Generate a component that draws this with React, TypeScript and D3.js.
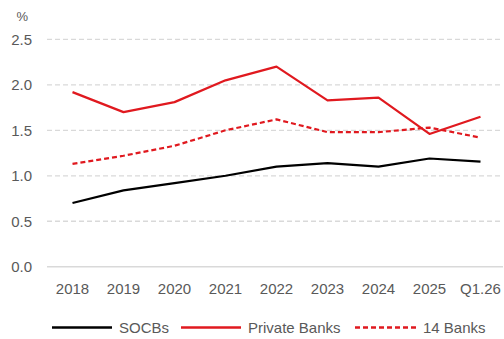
import React from "react";
import * as d3 from "d3";

const categories = ["2018", "2019", "2020", "2021", "2022", "2023", "2024", "2025", "Q1.26"];
const socbs = [0.7, 0.84, 0.92, 1.0, 1.1, 1.14, 1.1, 1.19, 1.155];
const privateBanks = [1.92, 1.7, 1.81, 2.05, 2.2, 1.83, 1.86, 1.46, 1.65];
const banks14 = [1.13, 1.22, 1.33, 1.5, 1.62, 1.48, 1.48, 1.53, 1.42];
const yTicks = [0, 0.5, 1.0, 1.5, 2.0, 2.5];

const seriesList = [
  { name: "SOCBs", values: socbs, color: "#000000", dash: "" },
  { name: "Private Banks", values: privateBanks, color: "#e0191f", dash: "" },
  { name: "14 Banks", values: banks14, color: "#e0191f", dash: "5,3" },
];

export default function App() {
  const W = 504, H = 339;
  const x = d3.scalePoint<string>().domain(categories).range([47, 506]).padding(0.5);
  const y = d3.scaleLinear().domain([0, 2.5]).range([266.7, 39.4]);
  const line = d3
    .line<number>()
    .x((_, i) => x(categories[i]) as number)
    .y((d) => y(d));
  const font = "'Liberation Sans', Arial, sans-serif";
  const legendItems = [
    { x1: 52, x2: 112, tx: 119 },
    { x1: 181, x2: 241, tx: 248 },
    { x1: 355, x2: 416, tx: 423 },
  ];
  return (
    <svg
      width={W}
      height={H}
      style={{ position: "absolute", left: 0, top: 0, background: "#fff" }}
      fontFamily={font}
    >
      <text x={28} y={21} fontSize={13} fill="#595959" textAnchor="end">%</text>
      {yTicks.map((t) => (
        <g key={t}>
          {t !== 0 && (
            <line x1={47} x2={503} y1={y(t)} y2={y(t)} stroke="#d9d9d9" strokeWidth={1.3} strokeDasharray="5,3" />
          )}
          <text x={32} y={y(t) + 5.3} fontSize={15} fill="#595959" textAnchor="end">
            {t.toFixed(1)}
          </text>
        </g>
      ))}
      <line x1={47} x2={503} y1={y(0)} y2={y(0)} stroke="#d9d9d9" strokeWidth={1.5} />
      {categories.map((c) => (
        <text key={c} x={x(c) as number} y={294} fontSize={15} fill="#595959" textAnchor="middle">
          {c}
        </text>
      ))}
      {seriesList.map((s) => (
        <path
          key={s.name}
          d={line(s.values) || ""}
          fill="none"
          stroke={s.color}
          strokeWidth={2.2}
          strokeDasharray={s.dash}
          strokeLinejoin="round"
        />
      ))}
      {seriesList.map((s, i) => (
        <g key={s.name}>
          <line
            x1={legendItems[i].x1}
            x2={legendItems[i].x2}
            y1={327.5}
            y2={327.5}
            stroke={s.color}
            strokeWidth={2.4}
            strokeDasharray={s.dash}
          />
          <text x={legendItems[i].tx} y={333} fontSize={15} fill="#595959">
            {s.name}
          </text>
        </g>
      ))}
    </svg>
  );
}
